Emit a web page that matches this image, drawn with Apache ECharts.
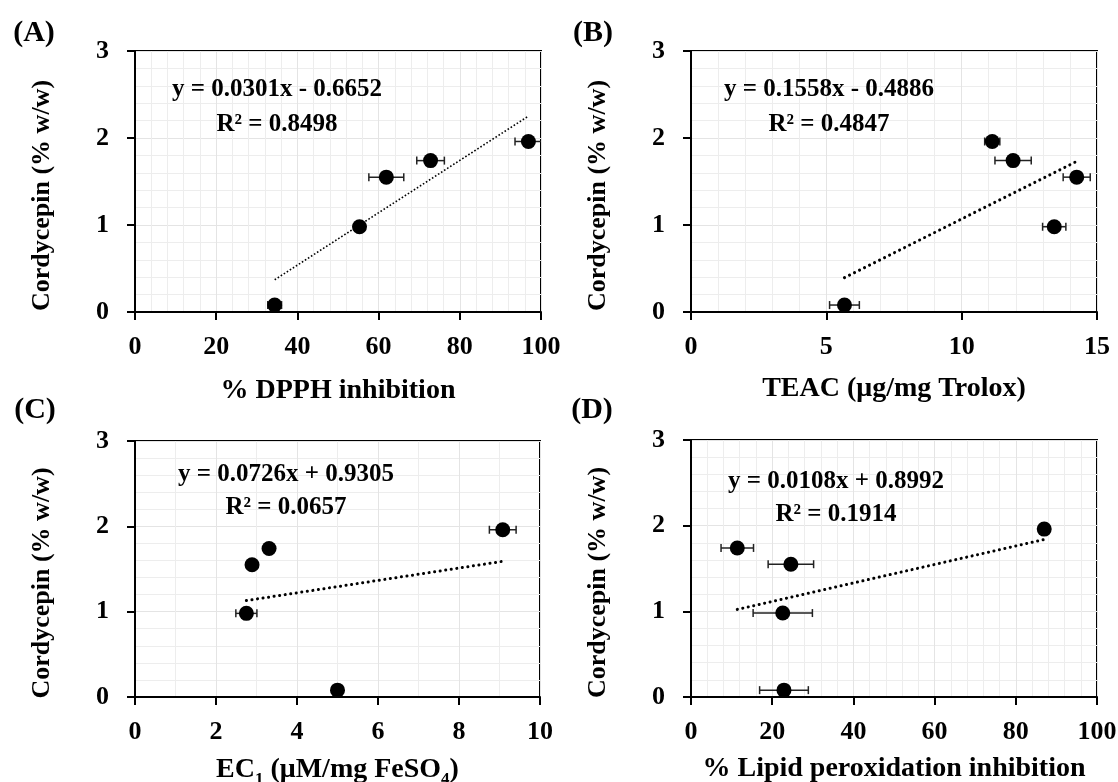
<!DOCTYPE html>
<html>
<head>
<meta charset="utf-8">
<title>Cordycepin vs antioxidant activity</title>
<script src="https://cdn.jsdelivr.net/npm/echarts@6/dist/echarts.min.js"></script>
<style>
  html, body { margin: 0; padding: 0; background: #fff; }
  #chart { width: 1118px; height: 782px; }
</style>
</head>
<body>
<div id="chart"></div>
<script>
// cordycepin content of the five samples (y of every panel)
const cordycepin = [0.08, 0.98, 1.55, 1.74, 1.96];

// (A) DPPH
const dpphX = [34.4, 55.3, 61.9, 72.8, 96.9];
const dpphErr = [1.7, 0, 4.3, 3.4, 3.3];
// (B) TEAC
const teacX = [5.67, 13.42, 14.25, 11.9, 11.13];
const teacErr = [0.55, 0.43, 0.5, 0.67, 0.28];
// (C) EC1
const ec1X = [5.0, 2.75, 2.89, 3.31, 9.08];
const ec1Err = [0, 0.26, 0, 0, 0.33];
// (D) lipid peroxidation
const lipidX = [22.9, 22.6, 24.6, 11.4, 87.0];
const lipidErr = [6.0, 7.3, 5.6, 4.0, 0];

// linear trend lines as printed on the chart
const trendSlope = [0.0301, 0.1558, 0.0726, 0.0108];
const trendIntercept = [-0.6652, -0.4886, 0.9305, 0.8992];
const eqLabels = ['y = 0.0301x - 0.6652', 'y = 0.1558x - 0.4886', 'y = 0.0726x + 0.9305', 'y = 0.0108x + 0.8992'];
const r2Labels = ['R² = 0.8498', 'R² = 0.4847', 'R² = 0.0657', 'R² = 0.1914'];

const panelTags = ['(A)', '(B)', '(C)', '(D)'];
const xNames = ['% DPPH inhibition', 'TEAC (μg/mg Trolox)', 'EC{sub|1} (μM/mg FeSO{sub|4})', '% Lipid peroxidation inhibition'];
const xMax = [100, 15, 10, 100];
const xStep = [20, 5, 2, 20];
const xMinorSplit = [5, 5, 2, 5];
const yTicks = [0, 1, 2, 3];

const FONT = 'Liberation Serif';

(function() {
  'use strict';

  const chart = echarts.init(document.getElementById('chart'));

  const xs = [dpphX, teacX, ec1X, lipidX];
  const errs = [dpphErr, teacErr, ec1Err, lipidErr];

  // layout of the four plot areas
  const grids = [
    { left: 135, top: 51, width: 406, height: 261 },
    { left: 691, top: 51, width: 406, height: 261 },
    { left: 135, top: 441, width: 405, height: 256 },
    { left: 691, top: 440, width: 406, height: 257 }
  ];
  const tagPos = [[34, 33], [593, 33], [35, 410], [592, 410]];
  const eqPos = [[277, 90, 125], [829, 90, 125], [286, 475, 508], [836, 482, 515]];
  const xNameGap = [65, 63, 59, 58];

  const textStyle = { fontFamily: FONT, fontWeight: 'bold', color: '#000' };

  // horizontal error bar with end caps
  function errorBar(params, api) {
    const e = api.value(2);
    if (!e) return null;
    const lo = api.coord([api.value(0) - e, api.value(1)]);
    const hi = api.coord([api.value(0) + e, api.value(1)]);
    const cap = 4;
    const style = { stroke: '#222', lineWidth: 1.5 };
    return {
      type: 'group',
      children: [
        { type: 'line', shape: { x1: lo[0], y1: lo[1], x2: hi[0], y2: hi[1] }, style: style },
        { type: 'line', shape: { x1: lo[0], y1: lo[1] - cap, x2: lo[0], y2: lo[1] + cap }, style: style },
        { type: 'line', shape: { x1: hi[0], y1: hi[1] - cap, x2: hi[0], y2: hi[1] + cap }, style: style }
      ]
    };
  }

  function label(text, x, y, size) {
    return {
      type: 'text', x: x, y: y, silent: true, z: 10,
      style: {
        text: text, fontFamily: FONT, fontWeight: 'bold', fontSize: size,
        fill: '#000', stroke: null, lineWidth: 0,
        align: 'center', verticalAlign: 'middle'
      }
    };
  }

  const gridOpts = [];
  const xAxes = [];
  const yAxes = [];
  const series = [];
  const graphics = [];

  for (let i = 0; i < 4; i++) {
    gridOpts.push(Object.assign({
      show: true, borderColor: '#000', borderWidth: 2,
      containLabel: false, outerBoundsMode: 'none'
    }, grids[i]));

    xAxes.push({
      gridIndex: i,
      type: 'value',
      min: 0,
      max: xMax[i],
      interval: xStep[i],
      name: xNames[i],
      nameLocation: 'middle',
      nameGap: xNameGap[i],
      nameTextStyle: Object.assign({ fontSize: 28, rich: {
        sub: { fontFamily: FONT, fontWeight: 'bold', fontSize: 17, verticalAlign: 'bottom', padding: [0, 0, -4, 0] }
      } }, textStyle),
      axisLine: { onZero: false, lineStyle: { color: '#000', width: 2 } },
      axisTick: { length: 8, lineStyle: { color: '#000', width: 2 } },
      axisLabel: Object.assign({ fontSize: 26, margin: 22 }, textStyle),
      splitLine: { show: true, lineStyle: { color: '#e4e4e4', width: 1 } },
      minorTick: { show: false, splitNumber: xMinorSplit[i] },
      minorSplitLine: { show: true, lineStyle: { color: '#ededed', width: 1 } }
    });

    yAxes.push({
      gridIndex: i,
      type: 'value',
      min: yTicks[0],
      max: yTicks[yTicks.length - 1],
      interval: 1,
      name: 'Cordycepin (% w/w)',
      nameLocation: 'middle',
      nameGap: 80,
      nameTextStyle: Object.assign({ fontSize: 26, padding: [0, 28, 0, 0] }, textStyle),
      axisLine: { onZero: false, lineStyle: { color: '#000', width: 2 } },
      axisTick: { length: 8, lineStyle: { color: '#000', width: 2 } },
      axisLabel: Object.assign({ fontSize: 26, margin: 26 }, textStyle),
      splitLine: { show: true, lineStyle: { color: '#e4e4e4', width: 1 } },
      minorTick: { show: false, splitNumber: 5 },
      minorSplitLine: { show: true, lineStyle: { color: '#ededed', width: 1 } }
    });

    const pts = xs[i].map((x, k) => [x, cordycepin[k], errs[i][k]]);
    const lo = Math.min.apply(null, xs[i]);
    const hi = Math.max.apply(null, xs[i]);

    // trend line over the range of the data
    series.push({
      type: 'line',
      xAxisIndex: i,
      yAxisIndex: i,
      data: [[lo, trendSlope[i] * lo + trendIntercept[i]], [hi, trendSlope[i] * hi + trendIntercept[i]]],
      symbol: 'none',
      silent: true,
      z: 2,
      lineStyle: i === 0
        ? { color: '#000', width: 1.6, type: [1.6, 2], cap: 'butt' }
        : { color: '#000', width: 3, type: [0.1, 5.5], cap: 'round' }
    });

    series.push({
      type: 'custom',
      xAxisIndex: i,
      yAxisIndex: i,
      data: pts,
      encode: { x: 0, y: 1 },
      renderItem: errorBar,
      clip: true,
      z: 3
    });

    series.push({
      type: 'scatter',
      xAxisIndex: i,
      yAxisIndex: i,
      data: pts,
      symbol: 'circle',
      symbolSize: 15,
      itemStyle: { color: '#000', opacity: 1 },
      z: 4
    });

    graphics.push(label(panelTags[i], tagPos[i][0], tagPos[i][1], 30));
    graphics.push(label(eqLabels[i], eqPos[i][0], eqPos[i][1], 25));
    graphics.push(label(r2Labels[i], eqPos[i][0], eqPos[i][2], 25));
  }

  chart.setOption({
    animation: false,
    backgroundColor: '#fff',
    grid: gridOpts,
    xAxis: xAxes,
    yAxis: yAxes,
    series: series,
    graphic: graphics
  });
})();
</script>
</body>
</html>
